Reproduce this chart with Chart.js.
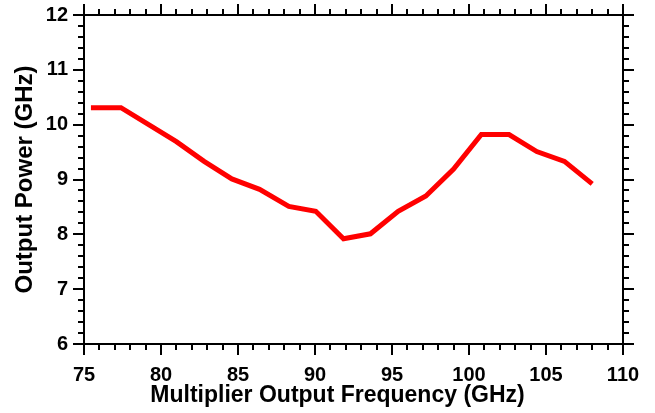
<!DOCTYPE html>
<html>
<head>
<meta charset="utf-8">
<script src="https://cdn.jsdelivr.net/npm/chart.js@4.4.1/dist/chart.umd.min.js"></script>
<style>
  html, body { margin: 0; padding: 0; background: #fff; }
</style>
</head>
<body>
<canvas id="freqChart" width="655" height="413"></canvas>
<script>
// multiplier output frequency (GHz) and measured output
var frequency = [75.45, 77.4, 79.2, 81.0, 82.8, 84.6, 86.4, 88.3, 90.05, 91.85, 93.6, 95.4, 97.2, 99.0, 100.8, 102.6, 104.4, 106.2, 108.0];
var outputPower = [10.31, 10.31, 10.0, 9.69, 9.33, 9.01, 8.82, 8.51, 8.42, 7.92, 8.01, 8.42, 8.70, 9.19, 9.82, 9.82, 9.51, 9.33, 8.92];

// trailing nbsp pull the centred title a bit left, like the original
var xTitle = 'Multiplier Output Frequency (GHz)\u00a0\u00a0\u00a0\u00a0\u00a0';
var yTitle = 'Output Power (GHz)';

var FONT = "'Liberation Sans', Arial, sans-serif";

// frame + major/minor ticks on all four sides
var frameTicks = {
    id: 'frameTicks',
    afterDraw: function (chart) {
        var ctx = chart.ctx;
        var a = chart.chartArea;
        var xs = chart.scales.x;
        var ys = chart.scales.y;
        ctx.save();
        ctx.strokeStyle = '#000';
        ctx.lineWidth = 2;
        ctx.strokeRect(a.left, a.top, a.right - a.left, a.bottom - a.top);
        ctx.beginPath();
        for (var v = xs.min; v <= xs.max + 0.001; v += 1) {
            var len = (Math.round(v) % 5 === 0) ? 11 : 6;
            var px = Math.round(xs.getPixelForValue(v));
            ctx.moveTo(px, a.bottom);
            ctx.lineTo(px, a.bottom + len);
            ctx.moveTo(px, a.top);
            ctx.lineTo(px, a.top - len);
        }
        for (var i = 0; i <= Math.round((ys.max - ys.min) / 0.2); i++) {
            var val = ys.min + i * 0.2;
            var l = (i % 5 === 0) ? 11 : 6;
            var py = Math.round(ys.getPixelForValue(val));
            ctx.moveTo(a.left, py);
            ctx.lineTo(a.left - l, py);
            ctx.moveTo(a.right, py);
            ctx.lineTo(a.right + l, py);
        }
        ctx.stroke();
        ctx.restore();
    }
};

var points = frequency.map(function (f, i) {
    return { x: f, y: outputPower[i] };
});

new Chart(document.getElementById('freqChart'), {
    type: 'line',
    data: {
        datasets: [{
            data: points,
            borderColor: '#ff0000',
            borderWidth: 5,
            pointRadius: 0,
            fill: false,
            tension: 0
        }]
    },
    options: {
        responsive: false,
        animation: false,
        layout: { padding: { top: 15, right: 32, bottom: 0, left: 0 } },
        plugins: {
            legend: { display: false },
            tooltip: { enabled: false }
        },
        scales: {
            x: {
                type: 'linear',
                min: 75,
                max: 110,
                grid: { display: false, drawTicks: false },
                border: { display: false },
                ticks: {
                    stepSize: 5,
                    padding: 19,
                    color: '#000',
                    font: { family: FONT, size: 20, weight: 'bold' }
                },
                title: {
                    display: true,
                    text: xTitle,
                    color: '#000',
                    padding: { top: 0, bottom: 4 },
                    font: { family: FONT, size: 23, weight: 'bold' }
                },
                afterFit: function (scale) {
                    scale.height = 69;
                    scale.paddingLeft = 0;
                    scale.paddingRight = 0;
                }
            },
            y: {
                min: 6,
                max: 12,
                grid: { display: false, drawTicks: false },
                border: { display: false },
                ticks: {
                    stepSize: 1,
                    padding: 16,
                    color: '#000',
                    font: { family: FONT, size: 20, weight: 'bold' }
                },
                title: {
                    display: true,
                    text: yTitle,
                    color: '#000',
                    padding: { top: 11, bottom: 0 },
                    font: { family: FONT, size: 24, weight: 'bold' }
                },
                afterFit: function (scale) {
                    scale.width = 84;
                    scale.paddingTop = 0;
                    scale.paddingBottom = 0;
                }
            }
        }
    },
    plugins: [frameTicks]
});
</script>
</body>
</html>
